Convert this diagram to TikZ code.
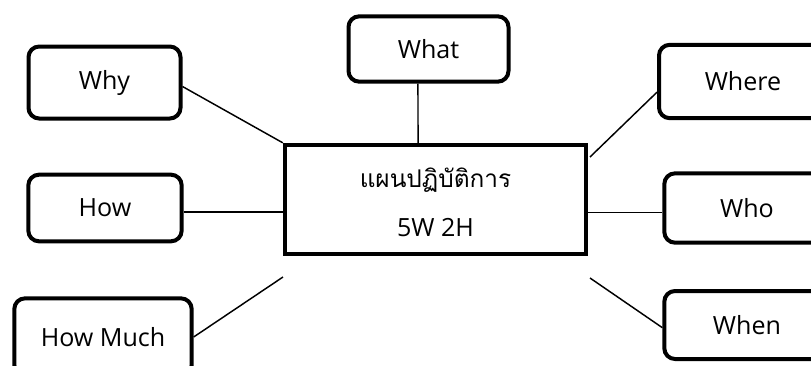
\documentclass[tikz,border=0pt]{standalone}
\usepackage{fontspec}
\setmainfont{Open Sans}
\newfontfamily\thaifont[Script=Thai]{Loma}
\usetikzlibrary{positioning}

\tikzset{
    qbox/.style={draw, line width=3pt, rounded corners=8pt, inner sep=0pt, font=\fontsize{18.8}{22}\selectfont},
    planbox/.style={draw, line width=3pt, inner sep=0pt, align=center},
    link/.style={line width=1.1pt}
}

\begin{document}
\begin{tikzpicture}[x=0.75pt, y=-0.75pt]
    \useasboundingbox (0,0) rectangle (811,365);
    \clip (0,0) rectangle (811,365);
    \node[planbox, minimum width=226pt, minimum height=82pt] (plan) at (435.5,199.5) {};
    \node[font=\thaifont\fontsize{18.3}{22}\selectfont] (plantitle) at (435.5,180) {แผนปฏิบัติการ};
    \node[font=\fontsize{18.8}{22}\selectfont] (plansub) at (435.5,228) {5W 2H};
    \node[qbox, minimum width=114pt, minimum height=54pt] (why) at (104.5,82.5) {Why};
    \node[qbox, minimum width=115pt, minimum height=50pt] (how) at (105,208) {How};
    \node[qbox, minimum width=133pt, minimum height=58pt] (howmuch) at (103,337) {How Much};
    \node[qbox, minimum width=120pt, minimum height=49pt] (what) at (428.5,49) {What};
    \node[qbox, minimum width=126pt, minimum height=55pt] (where) at (743,81.5) {Where};
    \node[qbox, minimum width=124pt, minimum height=52pt] (who) at (747,208) {Who};
    \node[qbox, minimum width=124pt, minimum height=51pt] (when) at (747,325) {When};
    \coordinate (howmuchend) at (283,277);
    \coordinate (whereend) at (590,157);
    \coordinate (whenend) at (590,278);
    \draw[link] ([yshift=-3pt]why.east) -- (plan.north west);
    \draw[link] ([yshift=-3pt]how.east) -- ([yshift=-3pt]how.east -| plan.west);
    \draw[link] (howmuch.east) -- (howmuchend);
    \draw[link] ([xshift=-7.9pt]what.south) -- ([xshift=-13.1pt]plan.north);
    \draw[link] ([yshift=-8pt]where.west) -- (whereend);
    \draw[link] ([yshift=-3.5pt]who.west) -- ([yshift=-3.5pt]who.west -| plan.east);
    \draw[link] ([yshift=-2pt]when.west) -- (whenend);
\end{tikzpicture}
\end{document}
